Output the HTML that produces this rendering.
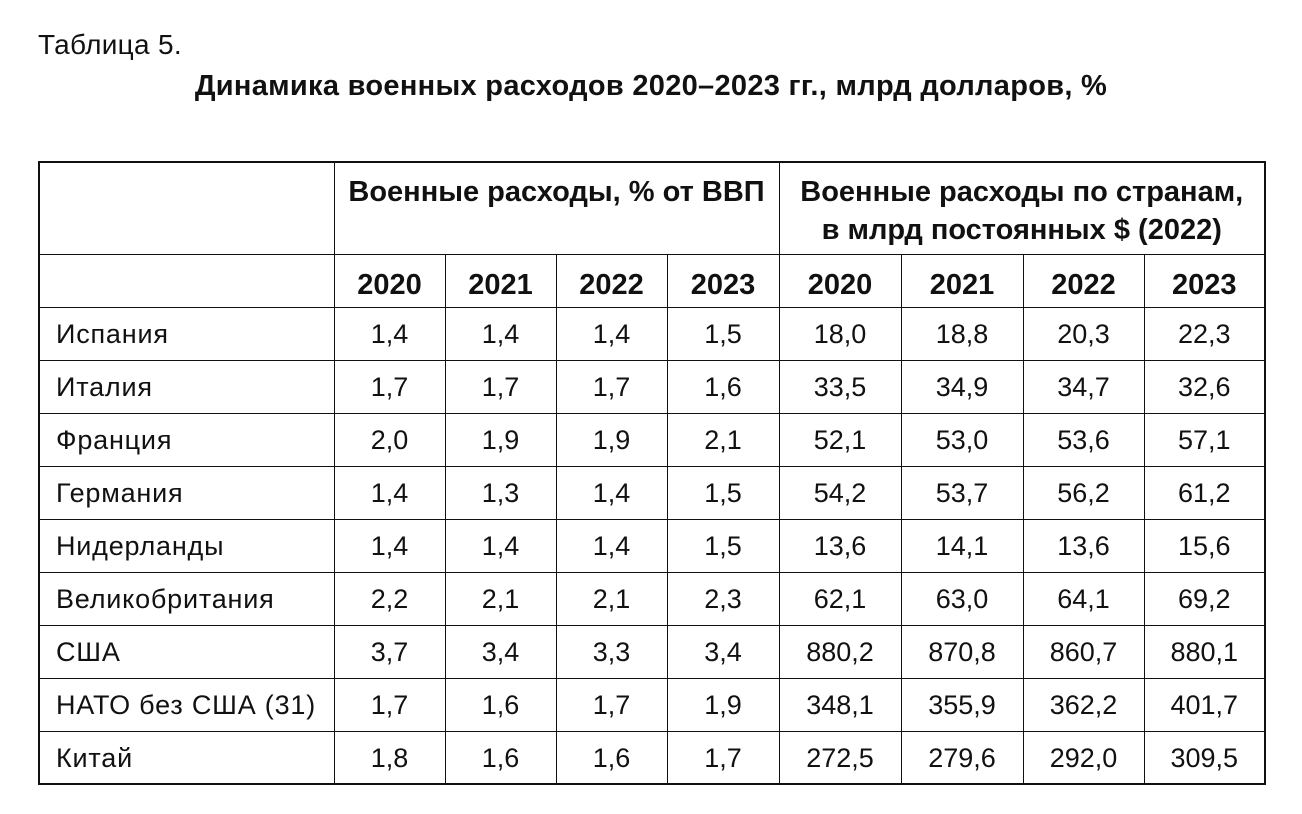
<!DOCTYPE html>
<html><head><meta charset="utf-8">
<style>
html,body{margin:0;padding:0;background:#fff;}
body{width:1302px;height:814px;position:relative;overflow:hidden;font-family:"Liberation Sans","DejaVu Sans",sans-serif;color:#111;}
.cap{position:absolute;left:38px;top:29px;font-size:28px;letter-spacing:0.3px;}
.title{position:absolute;left:0;width:1302px;top:70px;text-align:center;font-size:29px;font-weight:bold;letter-spacing:0.3px;}
table{position:absolute;left:38px;top:161px;border-collapse:collapse;table-layout:fixed;border:2.5px solid #111;}
td{border:1.5px solid #111;padding:0;font-size:27px;text-align:center;}
tr.h1 td{height:92px;font-weight:bold;font-size:29px;vertical-align:top;padding-top:10px;box-sizing:border-box;line-height:38px;}
tr.h2 td{height:53px;font-weight:bold;font-size:29px;vertical-align:bottom;padding-bottom:5px;box-sizing:border-box;}
tr.r td{height:53px;box-sizing:border-box;padding-top:2px;}
td.n{text-align:left;padding-left:16px;letter-spacing:0.8px;}
</style></head><body>
<div class="cap">Таблица 5.</div>
<div class="title">Динамика военных расходов 2020–2023 гг., млрд долларов, %</div>
<table>
<colgroup><col style="width:295px"><col style="width:111px"><col style="width:111px"><col style="width:111px"><col style="width:112px"><col style="width:122px"><col style="width:122px"><col style="width:121px"><col style="width:121px"></colgroup>
<tr class="h1"><td></td><td colspan="4">Военные расходы, % от ВВП</td><td colspan="4">Военные расходы по странам,<br>в млрд постоянных $ (2022)</td></tr>
<tr class="h2"><td></td><td>2020</td><td>2021</td><td>2022</td><td>2023</td><td>2020</td><td>2021</td><td>2022</td><td>2023</td></tr>
<tr class="r"><td class="n">Испания</td><td>1,4</td><td>1,4</td><td>1,4</td><td>1,5</td><td>18,0</td><td>18,8</td><td>20,3</td><td>22,3</td></tr>
<tr class="r"><td class="n">Италия</td><td>1,7</td><td>1,7</td><td>1,7</td><td>1,6</td><td>33,5</td><td>34,9</td><td>34,7</td><td>32,6</td></tr>
<tr class="r"><td class="n">Франция</td><td>2,0</td><td>1,9</td><td>1,9</td><td>2,1</td><td>52,1</td><td>53,0</td><td>53,6</td><td>57,1</td></tr>
<tr class="r"><td class="n">Германия</td><td>1,4</td><td>1,3</td><td>1,4</td><td>1,5</td><td>54,2</td><td>53,7</td><td>56,2</td><td>61,2</td></tr>
<tr class="r"><td class="n">Нидерланды</td><td>1,4</td><td>1,4</td><td>1,4</td><td>1,5</td><td>13,6</td><td>14,1</td><td>13,6</td><td>15,6</td></tr>
<tr class="r"><td class="n">Великобритания</td><td>2,2</td><td>2,1</td><td>2,1</td><td>2,3</td><td>62,1</td><td>63,0</td><td>64,1</td><td>69,2</td></tr>
<tr class="r"><td class="n">США</td><td>3,7</td><td>3,4</td><td>3,3</td><td>3,4</td><td>880,2</td><td>870,8</td><td>860,7</td><td>880,1</td></tr>
<tr class="r"><td class="n">НАТО без США (31)</td><td>1,7</td><td>1,6</td><td>1,7</td><td>1,9</td><td>348,1</td><td>355,9</td><td>362,2</td><td>401,7</td></tr>
<tr class="r"><td class="n">Китай</td><td>1,8</td><td>1,6</td><td>1,6</td><td>1,7</td><td>272,5</td><td>279,6</td><td>292,0</td><td>309,5</td></tr>
</table>
</body></html>
